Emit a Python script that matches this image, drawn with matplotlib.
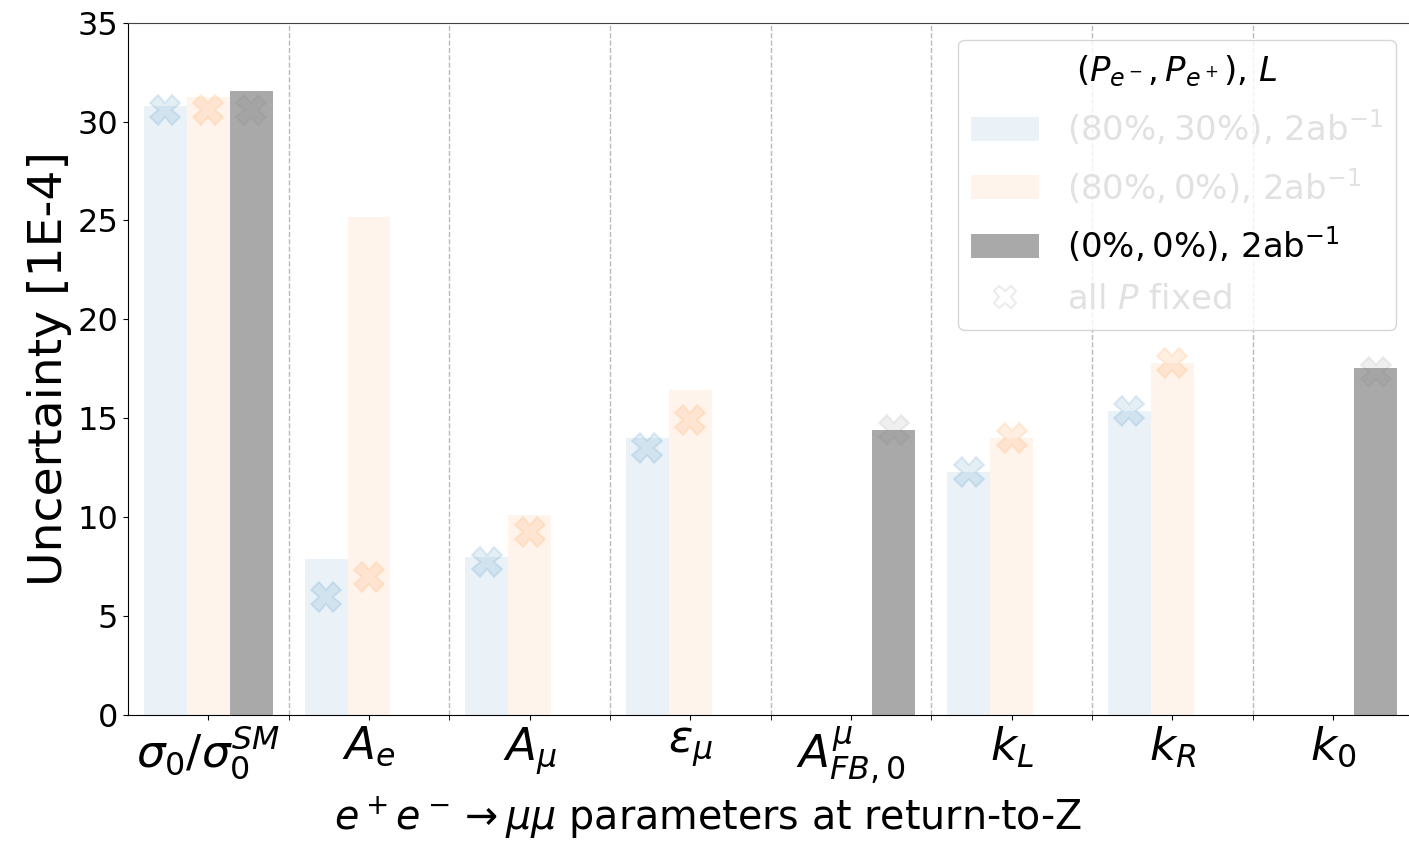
import numpy as np
from matplotlib import pyplot as plt
from matplotlib.lines import Line2D

nan = np.nan

params = ['$\\sigma_0/\\sigma_0^{SM}$', '$A_e$', '$A_\\mu$', '$\\varepsilon_\\mu$',
          '$A^{\\mu}_{FB,0}$', '$k_L$', '$k_R$', '$k_0$']

# uncertainty [1E-4] per beam setup
unc_80_30 = [30.8, 7.9, 8.0, 14.0, nan, 12.3, 15.35, nan]
unc_80_0 = [31.25, 25.2, 10.1, 16.45, nan, 14.0, 17.8, nan]
unc_0_0 = [31.55, nan, nan, nan, 14.4, nan, nan, 17.55]

# same, with all polarisations fixed
fix_80_30 = [30.6, 5.95, 7.75, 13.5, nan, 12.3, 15.35, nan]
fix_80_0 = [30.6, 7.0, 9.25, 14.9, nan, 14.0, 17.8, nan]
fix_0_0 = [30.6, nan, nan, nan, 14.4, nan, nan, 17.35]

labels = ['$(80\\%, 30\\%)$, 2ab$^{-1}$', '$(80\\%, 0\\%)$, 2ab$^{-1}$',
          '$(0\\%, 0\\%)$, 2ab$^{-1}$']

fig = plt.figure(figsize=(14.09, 8.49), dpi=100)
ax = fig.add_axes([0.0908, 0.1578, 0.9122, 0.8155])

x = np.arange(len(params))
w = 0.8 / 3

setups = [(unc_80_30, fix_80_30, 'tab:blue', 0.09),
          (unc_80_0, fix_80_0, 'tab:orange', 0.08),
          (unc_0_0, fix_0_0, 'darkgray', 1.0)]

handles = []
for i, (u, f, c, a) in enumerate(setups):
    b = ax.bar(x + (i - 1) * w, u, w, color=c, alpha=a, label=labels[i], zorder=2)
    handles.append(b)
    mc = 'gray' if c == 'darkgray' else c
    ax.plot(x + (i - 1) * w, f, 'X', ms=21, color=mc, alpha=0.12, mew=1.5, zorder=3)

handles.append(Line2D([], [], ls='', marker='X', ms=16, mfc='none', color='gray',
                      alpha=0.15, mew=1.5))

ax.set_xlim(-0.5, 7.5)
ax.set_ylim(0, 35)
ax.set_xticks(x)
ax.set_xticklabels(params, fontsize=32.5)
ax.set_xticks(x[:-1] + 0.5, minor=True)
ax.tick_params(axis='x', which='minor', length=3.5)
ax.tick_params(axis='y', labelsize=23)
ax.grid(axis='x', which='minor', ls='--', color='#bbbbbb', lw=1, zorder=0)
ax.spines['top'].set_color('#444444')

ax.set_ylabel('Uncertainty [1E-4]', fontsize=34)
ax.set_xlabel('$e^+e^-\\rightarrow\\mu\\mu$ parameters at return-to-Z', fontsize=28.5)
ax.xaxis.set_label_coords(0.451, -0.115)

leg = ax.legend(handles, labels + ['all $P$ fixed'], title='$(P_{e^-}, P_{e^+})$, $L$',
                fontsize=24.5, title_fontsize=24.5, loc='upper right', labelspacing=0.55)
for t in [leg.get_texts()[0], leg.get_texts()[1], leg.get_texts()[3]]:
    t.set_color('#e1e1e1')

fig.savefig('out.png', dpi=100)
